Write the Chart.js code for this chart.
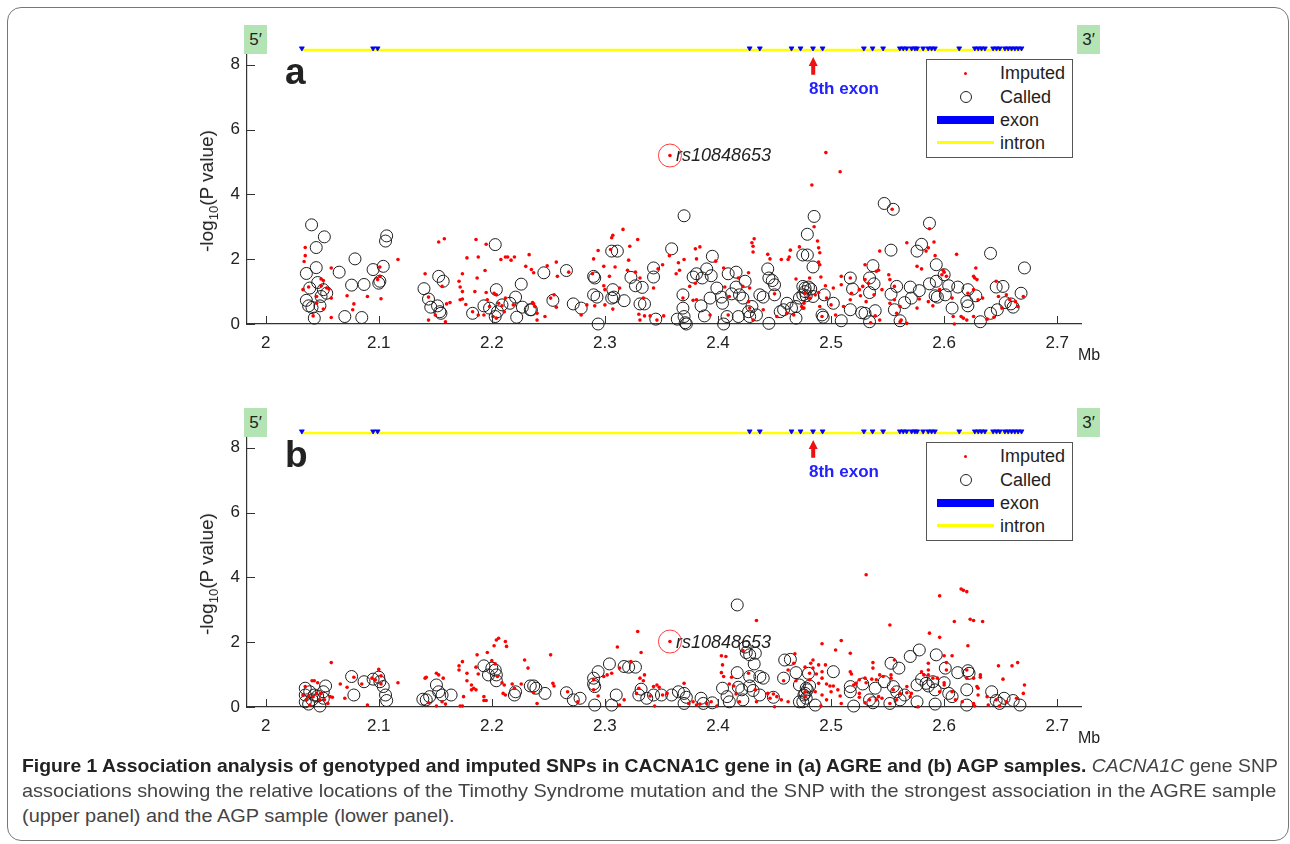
<!DOCTYPE html>
<html>
<head>
<meta charset="utf-8">
<script src="https://cdn.jsdelivr.net/npm/chart.js@4.4.0/dist/chart.umd.min.js"></script>
<style>
body{margin:0;width:1290px;height:844px;background:#fff;position:relative;overflow:hidden;font-family:"Liberation Sans",Arial,sans-serif;color:#222}
.frame{position:absolute;left:7px;top:7px;width:1280px;height:832px;border:1px solid #777;border-radius:14px}
.panel{position:absolute;left:0;width:1290px;height:383px}
.panel canvas{position:absolute;left:0;top:0}
.prime{position:absolute;top:25px;width:23px;height:29px;background:#b4e4b4;font-size:17px;line-height:29px;text-align:center}
.tag{position:absolute;left:285px;top:52px;font-size:37px;font-weight:bold;line-height:40px}
.ylab{position:absolute;left:207px;top:191px;font-size:19px;white-space:nowrap;transform:translate(-50%,-50%) rotate(-90deg)}
.ylab sub{font-size:13px;vertical-align:-5px;line-height:0}
.mb{position:absolute;left:1078px;top:346px;font-size:16px}
.exon8{position:absolute;left:809px;top:79px;font-size:17px;font-weight:bold;color:#2222ff}
.rs{position:absolute;left:676px;font-size:18px;font-style:italic;line-height:20px}
.legend{position:absolute;left:926px;top:59px;width:145px;height:97px;border:1px solid #555;background:#fff}
.legend div{position:absolute;left:73px;font-size:18px;line-height:20px}
.legend span{position:absolute}
.caption{position:absolute;left:22px;font-size:19px;white-space:nowrap;transform-origin:0 0;color:#444;font-family:"Liberation Sans Narrow","Liberation Sans",Arial,sans-serif}
.caption b{color:#222}
</style>
</head>
<body>
<div class="frame"></div>

<div class="panel" style="top:0">
  <canvas id="chartA" width="1290" height="383"></canvas>
  <div class="prime" style="left:244px">5′</div>
  <div class="prime" style="left:1077px">3′</div>
  <div class="tag">a</div>
  <div class="ylab">-log<sub>10</sub>(P value)</div>
  <div class="mb">Mb</div>
  <div class="exon8">8th exon</div>
  <div class="rs" style="top:145px">rs10848653</div>
  <div class="legend">
    <span style="left:37px;top:12px;width:3px;height:3px;border-radius:50%;background:#f00"></span>
    <span style="left:33px;top:31px;width:10px;height:10px;border-radius:50%;border:1px solid #222"></span>
    <span style="left:10px;top:56px;width:57px;height:8px;background:#0000ff"></span>
    <span style="left:10px;top:81px;width:57px;height:3px;background:#ffff00"></span>
    <div style="top:3px">Imputed</div>
    <div style="top:27px">Called</div>
    <div style="top:50px">exon</div>
    <div style="top:73px">intron</div>
  </div>
</div>

<div class="panel" style="top:383px">
  <canvas id="chartB" width="1290" height="383"></canvas>
  <div class="prime" style="left:244px">5′</div>
  <div class="prime" style="left:1077px">3′</div>
  <div class="tag">b</div>
  <div class="ylab">-log<sub>10</sub>(P value)</div>
  <div class="mb">Mb</div>
  <div class="exon8">8th exon</div>
  <div class="rs" style="top:249px">rs10848653</div>
  <div class="legend">
    <span style="left:37px;top:12px;width:3px;height:3px;border-radius:50%;background:#f00"></span>
    <span style="left:33px;top:31px;width:10px;height:10px;border-radius:50%;border:1px solid #222"></span>
    <span style="left:10px;top:56px;width:57px;height:8px;background:#0000ff"></span>
    <span style="left:10px;top:81px;width:57px;height:3px;background:#ffff00"></span>
    <div style="top:3px">Imputed</div>
    <div style="top:27px">Called</div>
    <div style="top:50px">exon</div>
    <div style="top:73px">intron</div>
  </div>
</div>

<div class="caption" id="cap1" style="top:755px"><b>Figure 1 Association analysis of genotyped and imputed SNPs in CACNA1C gene in (a) AGRE and (b) AGP samples.</b> <i>CACNA1C</i> gene SNP</div>
<div class="caption" id="cap2" style="top:780px">associations showing the relative locations of the Timothy Syndrome mutation and the SNP with the strongest association in the AGRE sample</div>
<div class="caption" id="cap3" style="top:805px">(upper panel) and the AGP sample (lower panel).</div>

<script>
var xTicks = [2, 2.1, 2.2, 2.3, 2.4, 2.5, 2.6, 2.7];
var yTicks = [0, 2, 4, 6, 8];
var geneStart = 2.032, geneEnd = 2.669, geneY = 8.46;
var exonPos = [2.032, 2.095, 2.099, 2.428, 2.437, 2.465, 2.473, 2.484, 2.4925, 2.529, 2.5367, 2.546,
  2.5608, 2.5638, 2.5668, 2.5712, 2.5741, 2.5761, 2.5814, 2.5859, 2.5889, 2.5918, 2.6133,
  2.6271, 2.6301, 2.633, 2.636, 2.6433, 2.6463, 2.6492, 2.6537, 2.6566, 2.6596, 2.6625, 2.6654, 2.6684];
var exon8 = 2.4842;
var rsX = 2.3575, rsA = 5.2, rsB = 2.02;

// panel a: AGRE
var aImputed = [[2.035,2.36],[2.035,2.11],[2.034,1.93],[2.058,1.73],[2.049,1.39],[2.051,1.34],[2.054,1.11],[2.056,1.08],[2.045,0.85],[2.058,0.80],[2.033,1.06],[2.038,1.14],[2.049,1.18],[2.045,0.64],[2.051,0.46],[2.058,0.20],[2.042,0.25],[2.072,0.87],[2.078,0.62],[2.077,0.44],[2.090,0.85],[2.101,1.76],[2.101,1.47],[2.099,1.37],[2.102,0.78],[2.117,1.99],[2.153,2.53],[2.158,2.63],[2.141,1.55],[2.144,0.83],[2.144,0.12],[2.159,0.07],[2.156,1.16],[2.160,0.62],[2.163,0.66],[2.150,0.28],[2.171,1.32],[2.172,1.14],[2.174,1.55],[2.174,1.0],[2.172,0.75],[2.174,0.77],[2.177,0.60],[2.178,2.04],[2.186,2.61],[2.195,2.46],[2.187,1.42],[2.194,1.65],[2.188,2.07],[2.185,1.0],[2.195,0.97],[2.188,0.28],[2.183,0.38],[2.193,0.28],[2.198,0.54],[2.196,0.75],[2.201,0.23],[2.202,0.95],[2.204,0.90],[2.206,0.64],[2.208,1.99],[2.212,2.07],[2.214,2.07],[2.217,1.97],[2.220,2.07],[2.230,1.78],[2.233,2.14],[2.209,0.56],[2.211,0.38],[2.219,0.59],[2.204,0.18],[2.212,0.80],[2.236,0.66],
  [2.235,1.68],[2.237,1.58],[2.238,0.54],[2.237,0.62],[2.240,0.33],[2.240,0.12],[2.247,0.23],[2.249,1.80],[2.257,1.91],[2.258,1.47],[2.255,0.90],[2.252,0.80],[2.257,0.52],[2.268,1.60],[2.279,0.28],[2.284,0.59],[2.290,2.01],[2.294,2.27],[2.289,1.55],[2.291,0.56],[2.299,1.78],[2.299,1.18],[2.300,1.06],[2.304,1.47],[2.306,2.66],[2.307,2.74],[2.316,2.92],[2.309,1.76],[2.305,2.30],[2.313,1.11],[2.307,0.46],[2.300,0.59],[2.321,1.97],[2.322,2.40],[2.329,2.61],[2.320,1.66],[2.327,1.60],[2.331,1.42],[2.334,0.80],[2.330,0.30],[2.331,0.12],[2.335,0.25],[2.340,0.25],[2.346,0.12],[2.343,1.11],[2.347,1.70],[2.351,1.83],[2.352,0.25],[2.357,2.11],[2.363,1.55],[2.365,1.89],[2.370,1.99],[2.366,1.66],[2.369,0.80],[2.380,2.32],[2.384,2.38],[2.381,2.01],[2.378,0.73],[2.381,0.75],[2.375,1.16],[2.380,1.26],[2.393,0.28],[2.398,1.94],[2.405,1.73],[2.406,1.14],[2.410,0.85],[2.409,0.28],[2.418,1.42],[2.422,1.16],[2.427,1.58],[2.430,2.51],[2.431,2.40],[2.431,2.22],[2.432,2.63],[2.428,1.11],[2.427,0.69],[2.428,0.49],[2.431,0.12],[2.440,0.44],[2.444,2.15],[2.446,2.01],[2.450,0.93],[2.452,0.23],[2.456,1.99],[2.462,1.99],[2.463,2.07],[2.464,2.28],[2.461,0.33],[2.467,0.28],[2.469,1.39],[2.472,2.38],[2.476,0.64],[2.475,0.49],
  [2.3575,5.2],[2.4954,5.29],[2.508,4.70],
  [2.483,4.29],[2.485,3.0],[2.488,2.56],[2.489,2.35],[2.490,2.20],[2.489,1.91],[2.490,1.83],[2.491,1.45],[2.481,1.42],[2.477,0.95],[2.481,0.80],[2.486,0.90],[2.489,0.97],[2.495,1.18],[2.490,0.54],[2.492,0.23],[2.496,0.80],[2.502,1.11],[2.504,0.28],[2.500,0.59],[2.509,1.47],[2.509,1.21],[2.511,0.54],[2.517,1.42],[2.518,0.95],[2.517,0.75],[2.525,1.06],[2.526,0.87],[2.528,1.16],[2.530,1.37],[2.530,1.83],[2.531,0.69],[2.533,1.26],[2.538,0.90],[2.540,1.63],[2.542,1.66],[2.543,2.25],[2.545,1.06],[2.539,0.25],[2.543,0.12],[2.535,0.04],[2.551,1.52],[2.552,1.37],[2.554,3.54],[2.556,1.16],[2.556,0.75],[2.558,0.33],[2.561,0.54],[2.562,0.12],[2.567,0.02],[2.561,0.07],[2.552,0.64],[2.567,2.51],[2.576,1.78],[2.580,1.70],[2.584,2.25],[2.586,2.35],[2.587,2.94],[2.591,2.53],[2.592,2.11],[2.576,0.49],[2.578,0.77],[2.586,0.69],[2.590,0.56],[2.596,1.06],[2.598,1.52],[2.599,1.66],[2.600,1.60],[2.602,1.47],[2.607,0.80],[2.608,0.23],[2.609,0.0],[2.611,2.15],[2.615,0.23],[2.617,0.18],[2.620,0.12],[2.626,0.23],[2.621,0.95],[2.626,1.06],[2.626,1.47],[2.627,1.42],[2.629,1.37],[2.628,1.73],[2.630,0.75],[2.634,0.80],[2.638,0.15],[2.646,1.32],[2.648,0.85],[2.651,0.49],[2.655,0.90],[2.658,0.75],[2.663,0.69],[2.665,0.54],[2.670,0.85],[2.644,0.21],[2.474,0.54],[2.476,0.49]];

var aCalled = [[2.0406,3.06],[2.0519,2.69],[2.0447,2.36],[2.079,2.01],[2.0447,1.74],[2.036,1.56],[2.065,1.60],[2.095,1.68],[2.107,2.72],[2.106,2.56],[2.104,1.78],[2.076,1.20],[2.087,1.22],[2.100,1.26],[2.101,1.32],[2.046,1.28],[2.039,1.11],[2.051,1.06],[2.054,0.95],[2.036,0.73],[2.049,0.85],[2.048,0.56],[2.038,0.56],[2.041,0.51],[2.043,0.18],[2.070,0.23],[2.085,0.20],
  [2.153,1.47],[2.157,1.32],[2.140,1.09],[2.144,0.77],[2.146,0.52],[2.152,0.56],[2.154,0.38],[2.155,0.33],[2.183,0.33],[2.193,0.56],[2.198,0.49],[2.203,0.23],[2.204,1.06],[2.205,0.38],[2.209,0.59],[2.216,0.64],[2.221,0.83],[2.226,1.23],[2.227,0.52],[2.222,0.21],[2.234,0.44],[2.203,2.45],
  [2.246,1.58],[2.266,1.65],[2.272,0.62],[2.279,0.49],[2.254,0.73],[2.235,0.44],[2.290,1.47],[2.291,1.42],[2.290,0.90],[2.293,0.83],[2.294,0.0],[2.306,2.25],[2.311,2.25],[2.306,0.80],[2.308,0.83],[2.307,1.06],[2.317,0.72],[2.323,1.44],[2.327,1.18],[2.333,1.13],[2.331,0.62],[2.335,0.62],[2.343,1.73],[2.343,1.45],[2.345,0.15],[2.359,2.32],[2.370,3.34],[2.369,0.90],[2.369,0.49],[2.370,0.23],[2.371,0.04],[2.372,0.0],[2.364,0.15],[2.378,1.45],[2.381,1.55],[2.386,1.42],[2.390,1.70],[2.395,2.09],[2.394,1.49],[2.399,1.11],[2.393,0.80],[2.385,0.56],[2.388,0.25],[2.403,0.83],[2.404,0.64],[2.405,0.0],[2.408,0.23],[2.409,1.55],[2.416,1.60],[2.416,1.14],[2.418,0.23],[2.412,0.93],[2.419,0.90],[2.422,0.80],[2.424,1.32],[2.427,0.38],[2.428,0.23],[2.430,0.54],[2.434,0.28],[2.437,0.90],[2.440,0.83],[2.444,1.70],[2.445,1.42],[2.448,1.34],[2.450,1.21],[2.450,0.90],[2.445,0.02],[2.455,0.38],[2.458,0.44],[2.461,0.64],[2.465,0.49],[2.469,0.54],[2.469,0.18],[2.472,0.80],[2.475,1.16],[2.475,2.13],[2.479,2.13],[2.479,2.77],[2.485,3.32],[2.477,1.0],
  [2.484,1.76],[2.477,1.11],[2.480,1.14],[2.482,1.08],[2.475,0.90],[2.478,0.87],[2.484,0.85],[2.494,0.90],[2.492,0.28],[2.493,0.21],[2.502,0.64],[2.509,0.10],[2.517,1.42],[2.519,1.08],[2.517,0.44],[2.527,0.35],[2.530,0.33],[2.539,0.41],[2.534,0.07],[2.534,1.42],[2.537,1.80],[2.538,1.24],[2.534,0.97],[2.547,3.72],[2.555,3.54],[2.553,2.28],[2.553,0.92],[2.558,1.16],[2.556,0.44],[2.561,0.10],[2.565,0.66],[2.570,1.14],[2.571,0.80],[2.578,1.03],[2.576,2.25],[2.580,2.46],[2.587,3.11],[2.587,1.24],[2.593,1.83],[2.593,1.32],[2.592,0.87],[2.594,0.83],[2.600,1.52],[2.601,0.90],[2.604,1.18],[2.607,0.49],[2.612,1.14],[2.621,1.06],[2.620,0.69],[2.621,0.56],[2.628,0.87],[2.632,0.07],[2.641,2.18],[2.641,0.33],[2.646,1.14],[2.647,0.44],[2.652,1.16],[2.654,0.66],[2.659,0.62],[2.661,0.52],[2.668,0.95],[2.671,1.73]];

// panel b: AGP
var bImputed = [[2.058,1.37],[2.041,0.81],[2.043,0.81],[2.035,0.63],[2.046,0.75],[2.033,0.37],[2.038,0.34],[2.042,0.32],[2.045,0.42],[2.049,0.42],[2.048,0.22],[2.052,0.22],[2.057,0.32],[2.059,0.30],[2.036,0.22],[2.039,0.06],[2.055,0.11],[2.066,0.71],[2.072,0.61],[2.070,0.27],[2.078,0.92],[2.085,0.71],[2.090,0.06],[2.094,0.89],[2.097,0.84],[2.100,1.16],[2.102,0.96],[2.102,0.71],[2.117,0.75],[2.141,0.89],[2.142,0.92],[2.151,1.04],[2.153,0.99],[2.157,0.89],[2.144,0.13],[2.151,0.03],[2.156,0.16],[2.159,0.09],[2.171,1.27],[2.171,1.14],[2.174,1.40],[2.175,0.32],[2.172,0.03],[2.174,0.03],[2.178,1.04],[2.178,0.81],[2.182,0.68],[2.184,0.58],[2.186,0.53],[2.182,0.53],[2.188,1.02],[2.186,1.23],[2.187,1.61],[2.193,0.32],[2.193,0.20],[2.195,0.20],[2.196,1.68],[2.202,1.89],[2.204,2.07],[2.206,2.12],[2.212,2.02],[2.213,1.87],[2.209,0.75],[2.211,0.68],[2.212,0.37],[2.210,0.42],[2.218,0.71],[2.220,0.58],[2.226,0.71],[2.229,1.45],[2.232,1.20],[2.200,1.43],[2.203,1.33],[2.205,0.94],
  [2.252,1.61],[2.254,0.73],[2.255,0.65],[2.237,0.44],[2.240,0.11],[2.267,0.47],[2.276,0.16],[2.290,0.84],[2.290,0.53],[2.294,0.34],[2.299,0.94],[2.302,0.99],[2.306,1.04],[2.311,1.85],[2.313,1.20],[2.313,0.06],[2.317,0.22],[2.323,1.40],[2.329,2.33],[2.332,1.68],[2.335,0.99],[2.331,0.89],[2.334,0.81],[2.330,0.58],[2.328,0.42],[2.340,0.34],[2.343,0.63],[2.346,0.68],[2.348,0.61],[2.351,0.37],[2.355,0.42],[2.344,0.03],[2.3575,2.02],[2.370,0.73],[2.374,0.11],[2.378,0.16],[2.381,0.06],[2.384,0.09],[2.390,0.11],[2.394,0.16],[2.399,0.03],[2.403,1.58],[2.407,1.56],[2.404,1.30],[2.403,1.06],[2.405,0.94],[2.412,0.92],[2.410,0.71],[2.414,0.65],[2.422,1.74],[2.434,2.67],[2.427,1.04],[2.433,0.53],[2.434,0.16],[2.444,0.42],[2.446,0.27],[2.449,0.40],[2.452,0.32],[2.450,0.01],[2.456,0.22],[2.458,0.81],[2.462,1.14],[2.462,0.16],[2.468,1.64],[2.467,1.35],[2.469,0.81],[2.477,0.47],[2.416,0.40],[2.419,0.16],
  [2.531,4.08],[2.596,3.43],[2.615,3.64],[2.617,3.60],[2.620,3.56],[2.609,2.64],[2.623,2.71],[2.626,2.67],[2.634,2.64],[2.596,2.15],[2.587,2.28],[2.552,2.53],[2.621,1.89],[2.607,1.58],[2.600,1.58],[2.602,1.37],[2.509,2.05],[2.492,1.95],[2.504,1.76],[2.517,1.66],[2.484,1.45],[2.482,1.35],[2.477,1.23],[2.489,1.30],[2.495,1.30],[2.484,1.20],[2.492,1.09],[2.487,1.02],[2.492,0.89],[2.481,1.04],[2.481,0.84],[2.489,0.73],[2.496,0.71],[2.499,0.65],[2.502,0.65],[2.506,0.53],[2.508,0.34],[2.509,0.11],[2.500,0.47],[2.486,0.47],[2.492,0.37],[2.477,0.32],[2.496,0.22],[2.491,0.03],[2.517,1.09],[2.518,1.02],[2.520,0.68],[2.522,0.73],[2.525,0.84],[2.530,0.89],[2.531,0.75],[2.536,0.86],[2.537,1.20],[2.537,1.37],[2.540,0.84],[2.543,0.99],[2.546,0.94],[2.525,0.42],[2.525,0.30],[2.530,0.13],[2.534,0.22],[2.540,0.22],[2.542,0.32],[2.545,0.27],[2.553,0.99],[2.553,0.89],[2.556,1.45],[2.555,0.53],[2.558,0.22],[2.552,0.11],[2.561,0.42],[2.567,0.63],[2.567,0.44],[2.571,0.42],[2.570,0.32],[2.577,0.01],[2.580,1.09],[2.582,0.99],[2.586,1.35],[2.586,0.99],[2.586,1.14],[2.590,0.89],[2.594,0.89],[2.600,0.75],[2.600,0.68],[2.602,1.14],[2.596,0.47],[2.607,0.47],[2.610,0.22],[2.620,1.14],[2.620,0.89],[2.626,0.89],[2.632,0.99],[2.632,0.92],[2.629,0.63],[2.630,0.58],[2.630,0.37],[2.626,0.11],[2.627,0.03],[2.616,0.16],[2.639,0.06],[2.638,0.32],[2.646,0.22],[2.648,1.27],[2.652,0.86],[2.660,1.27],[2.665,1.37],[2.671,0.68],[2.670,0.42],[2.664,0.27],[2.655,0.16],[2.649,0.03]];

var bCalled = [[2.035,0.58],[2.039,0.47],[2.043,0.37],[2.046,0.34],[2.035,0.37],[2.035,0.16],[2.038,0.09],[2.048,0.03],[2.051,0.27],[2.053,0.65],[2.051,0.47],[2.041,0.22],[2.076,0.94],[2.078,0.37],[2.087,0.78],[2.095,0.86],[2.100,0.92],[2.101,0.78],[2.104,0.63],[2.106,0.37],[2.107,0.20],[2.139,0.24],[2.142,0.22],[2.145,0.32],[2.151,0.68],[2.153,0.47],[2.156,0.37],[2.164,0.37],[2.193,1.27],[2.197,0.99],[2.200,1.20],[2.203,1.14],[2.204,0.99],[2.204,0.81],[2.221,0.47],[2.220,0.37],[2.234,0.65],
  [2.237,0.65],[2.239,0.58],[2.247,0.42],[2.266,0.44],[2.272,0.22],[2.278,0.27],[2.291,0.06],[2.290,0.89],[2.290,0.71],[2.291,0.63],[2.294,1.09],[2.304,1.33],[2.306,0.06],[2.310,0.37],[2.317,1.25],[2.321,1.23],[2.327,1.23],[2.332,0.55],[2.330,0.37],[2.337,0.27],[2.343,0.37],[2.350,0.37],[2.359,0.37],[2.365,0.47],[2.370,0.42],[2.372,0.30],[2.370,0.11],[2.385,0.27],[2.387,0.11],[2.395,0.13],[2.404,0.58],[2.408,0.32],[2.410,0.16],[2.417,3.15],[2.417,1.06],[2.418,0.61],[2.421,0.53],[2.422,0.22],[2.424,1.85],[2.425,1.68],[2.428,1.61],[2.433,1.66],[2.432,1.33],[2.428,0.94],[2.428,0.65],[2.431,0.51],[2.437,0.94],[2.440,0.89],[2.437,0.37],[2.449,0.30],[2.458,0.89],[2.459,1.45],[2.464,1.47],[2.469,1.06],[2.472,0.68],[2.472,0.16],[2.478,0.58],[2.476,0.37],[2.480,1.04],
  [2.481,0.65],[2.479,0.53],[2.477,0.42],[2.478,0.27],[2.475,0.16],[2.486,0.06],[2.502,1.09],[2.517,0.63],[2.517,0.47],[2.520,0.03],[2.528,0.71],[2.534,0.22],[2.537,0.13],[2.539,0.58],[2.547,0.78],[2.553,1.35],[2.560,1.20],[2.555,0.63],[2.558,0.47],[2.552,0.11],[2.561,0.22],[2.565,0.37],[2.570,1.56],[2.578,1.76],[2.576,0.68],[2.580,0.86],[2.584,0.73],[2.586,0.65],[2.590,0.78],[2.592,0.53],[2.593,1.61],[2.576,0.16],[2.592,0.09],[2.601,1.20],[2.600,0.75],[2.604,0.42],[2.607,0.32],[2.612,1.06],[2.621,1.12],[2.622,1.04],[2.620,0.53],[2.620,0.06],[2.642,0.47],[2.646,0.20],[2.649,0.11],[2.653,0.27],[2.661,0.20],[2.667,0.06]];

function pts(list){ return list.map(function(p){ return {x:p[0], y:p[1]}; }); }

// inward ticks and the red arrow under the 8th exon
var extras = {
  id:'extras',
  afterDraw:function(chart){
    var ctx = chart.ctx, a = chart.chartArea, x = chart.scales.x, y = chart.scales.y;
    ctx.save();
    ctx.strokeStyle = '#333'; ctx.lineWidth = 1;
    ctx.beginPath();
    xTicks.forEach(function(v){ var p = Math.round(x.getPixelForValue(v)) + 0.5; ctx.moveTo(p, a.bottom); ctx.lineTo(p, a.bottom - 8); });
    yTicks.forEach(function(v){ var p = Math.round(y.getPixelForValue(v)) + 0.5; ctx.moveTo(a.left, p); ctx.lineTo(a.left + 8, p); });
    ctx.stroke();
    var ax = x.getPixelForValue(exon8), tip = y.getPixelForValue(8.24), base = y.getPixelForValue(7.69);
    ctx.fillStyle = '#ee1111';
    ctx.beginPath();
    ctx.moveTo(ax, tip); ctx.lineTo(ax + 4.5, tip + 9); ctx.lineTo(ax + 2, tip + 9); ctx.lineTo(ax + 2, base);
    ctx.lineTo(ax - 2, base); ctx.lineTo(ax - 2, tip + 9); ctx.lineTo(ax - 4.5, tip + 9); ctx.closePath();
    ctx.fill();
    ctx.restore();
  }
};

function makePanel(id, imputed, called, rsY){
  return new Chart(document.getElementById(id), {
    type:'scatter',
    data:{datasets:[
      {label:'top', data:[{x:rsX, y:rsY}], pointRadius:11.5, borderColor:'#ff3b3b', borderWidth:1, backgroundColor:'rgba(0,0,0,0)', clip:false},
      {label:'Imputed', data:pts(imputed), pointRadius:1.8, borderWidth:0, backgroundColor:'#ff0000', clip:false},
      {label:'Called', data:pts(called), pointRadius:6, borderWidth:1, borderColor:'#1e1e1e', backgroundColor:'rgba(0,0,0,0)', clip:false},
      {label:'exon', data:exonPos.map(function(v){ return {x:v, y:geneY + 0.05}; }), pointStyle:'triangle', rotation:180, pointRadius:2.8, borderWidth:0.8, borderColor:'#0000ff', backgroundColor:'#0000ff', clip:false},
      {label:'intron', type:'line', data:[{x:geneStart, y:geneY}, {x:geneEnd, y:geneY}], borderColor:'#ffff00', borderWidth:2.5, pointRadius:0, clip:false}
    ]},
    options:{
      responsive:false, animation:false, events:[],
      layout:{padding:{left:0, right:209, top:32.4, bottom:19}},
      plugins:{legend:{display:false}, tooltip:{enabled:false}},
      scales:{
        x:{type:'linear', min:1.9835, max:2.721,
          grid:{display:false, drawTicks:false},
          border:{display:true, color:'#333', width:1.2},
          afterBuildTicks:function(s){ s.ticks = xTicks.map(function(v){ return {value:v}; }); },
          afterFit:function(s){ s.height = 40; },
          ticks:{padding:9, color:'#222', font:{family:'Liberation Sans', size:17}, maxRotation:0, callback:function(v){ return String(v); }}},
        y:{type:'linear', min:0, max:9,
          grid:{display:false, drawTicks:false},
          border:{display:true, color:'#333', width:1.2},
          afterBuildTicks:function(s){ s.ticks = yTicks.map(function(v){ return {value:v}; }); },
          afterFit:function(s){ s.width = 247; },
          ticks:{padding:7, color:'#222', font:{family:'Liberation Sans', size:17}}}
      }
    },
    plugins:[extras]
  });
}

makePanel('chartA', aImputed, aCalled, rsA);
makePanel('chartB', bImputed, bCalled, rsB);

// squeeze the caption lines to the printed width
var c1 = document.getElementById('cap1'), c2 = document.getElementById('cap2'), c3 = document.getElementById('cap3');
var s1 = 1256 / c1.offsetWidth, s2 = 1254 / c2.offsetWidth;
c1.style.transform = 'scaleX(' + s1 + ')';
c2.style.transform = 'scaleX(' + s2 + ')';
c3.style.transform = 'scaleX(' + s2 + ')';
</script>
</body>
</html>
